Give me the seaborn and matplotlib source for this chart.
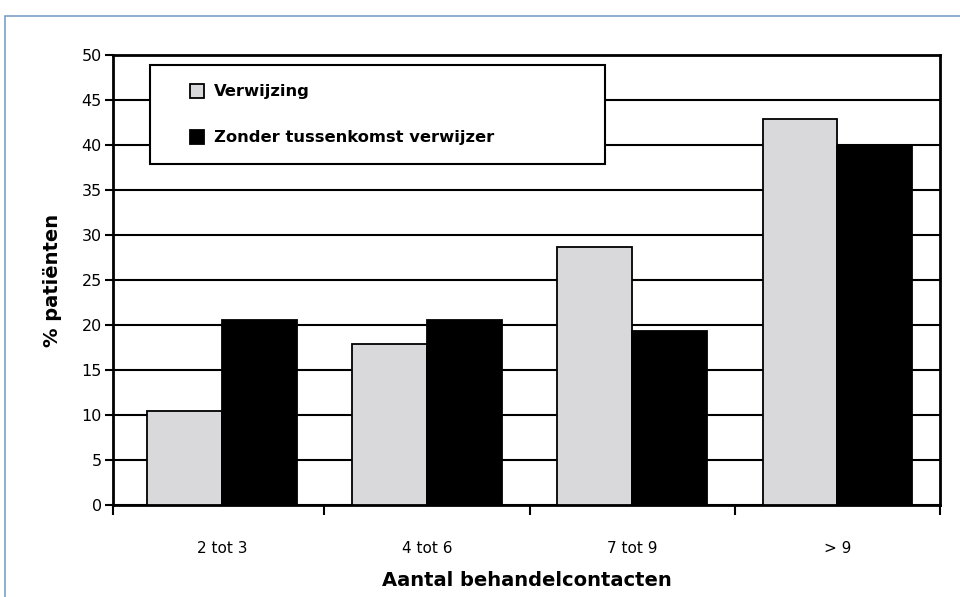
import pandas as pd
import matplotlib.pyplot as plt
import matplotlib.patches as mpatches
from matplotlib.legend_handler import HandlerPatch
import seaborn as sns

# Data
categories = ['2 tot 3', '4 tot 6', '7 tot 9', '> 9']
verwijzing = [10.5, 17.9, 28.7, 42.9]
zonder = [20.6, 20.6, 19.3, 39.9]
series = ['Verwijzing', 'Zonder tussenkomst verwijzer']
colors = ['#d9d9db', '#000000']

df = pd.DataFrame({
    'Categorie': categories * 2,
    'Percentage': verwijzing + zonder,
    'Groep': [series[0]] * len(categories) + [series[1]] * len(categories),
})

sns.set_style('white')
plt.rcParams['font.family'] = ['DejaVu Sans']
plt.rcParams['text.color'] = 'black'
plt.rcParams['axes.labelcolor'] = 'black'
plt.rcParams['xtick.color'] = 'black'
plt.rcParams['ytick.color'] = 'black'

fig = plt.figure(figsize=(9.6, 5.97), dpi=100)
ax = fig.add_axes([0.1177, 0.154, 0.8615, 0.754])

sns.barplot(data=df, x='Categorie', y='Percentage', hue='Groep',
            palette=colors, width=0.73, edgecolor='black', linewidth=1.3,
            ax=ax, legend=False, zorder=3)

# Frame round the whole picture
frame = mpatches.Rectangle((5 / 960, -0.1), 1.2, 1 - 16 / 597 + 0.1,
                           transform=fig.transFigure, fill=False,
                           edgecolor='#7aa0c8', linewidth=1.2)
fig.patches.append(frame)

ax.set_ylim(0, 50)
ax.set_yticks(range(0, 51, 5))
ax.set_xlim(-0.53, 3.5)
ax.yaxis.grid(True, color='black', linewidth=1.5, zorder=0)
ax.set_axisbelow(True)

# x ticks sit on the category boundaries
ax.set_xticks([-0.53, 0.5, 1.5, 2.5, 3.5], minor=False)
ax.set_xticklabels([])
ax.set_xticks(range(len(categories)), minor=True)
ax.set_xticklabels(categories, minor=True)
ax.tick_params(axis='x', which='major', length=7, width=1.5, direction='out', bottom=True)
ax.tick_params(axis='x', which='minor', length=0, pad=26, labelsize=11)
ax.tick_params(axis='y', length=6, width=1.5, direction='out', left=True, labelsize=11.5, pad=2)

for side in ['left', 'right', 'top', 'bottom']:
    ax.spines[side].set_visible(True)
    ax.spines[side].set_color('black')
    ax.spines[side].set_linewidth(2)

ax.set_xlabel('Aantal behandelcontacten', fontsize=14, fontweight='bold', labelpad=11)
ax.set_ylabel('% patiënten', fontsize=14, fontweight='bold', labelpad=14)


# square legend key pushed to the right end of the handle box
def square_key(legend, orig_handle, xdescent, ydescent, width, height, fontsize):
    side = height * 1.0
    return mpatches.Rectangle((width - side - xdescent, -ydescent), side, side)


handles = [mpatches.Patch(facecolor=c, edgecolor='black', linewidth=1.3) for c in colors]
leg = ax.legend(handles, series, loc='upper left',
                bbox_to_anchor=(0.045, 0.978, 0.55, 0.0), mode='expand',
                fancybox=False, framealpha=1, edgecolor='black',
                prop={'weight': 'bold', 'size': 11.8},
                handler_map={mpatches.Patch: HandlerPatch(patch_func=square_key)},
                handlelength=2.15, handleheight=0.95, handletextpad=0.6,
                labelspacing=1.85, borderpad=1.15, borderaxespad=0)
leg.get_frame().set_linewidth(1.5)

fig.savefig('out.png', dpi=100, facecolor='white')
